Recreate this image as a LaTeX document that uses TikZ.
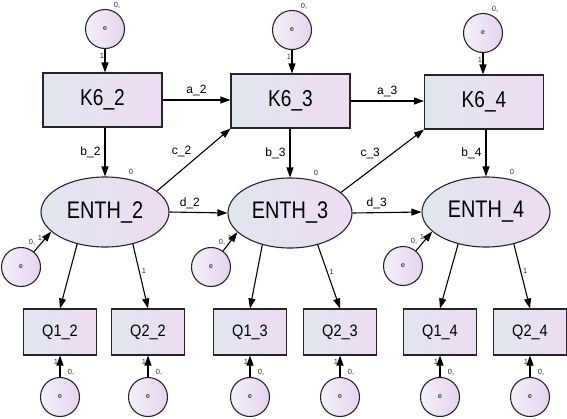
\documentclass[tikz,border=0pt]{standalone}
\usepackage{fontspec}
\setmainfont{Liberation Sans}
\newfontfamily\narrowf[FakeStretch=0.88]{Liberation Sans}
\newfontfamily\narrowg[FakeStretch=0.83]{Liberation Sans}
\usetikzlibrary{arrows.meta,shapes.geometric}
\tikzset{
  base/.style={draw=black!85, line width=1.1pt, inner sep=0pt},
  kbox/.style={base, rectangle, minimum width=119pt, minimum height=54pt,
    left color=boxL, right color=boxR, font=\narrowg\fontsize{23}{23}\selectfont},
  qbox/.style={base, rectangle, minimum width=73pt, minimum height=46pt,
    left color=boxL, right color=boxR, font=\narrowf\fontsize{16.5}{16.5}\selectfont},
  lat/.style={base, ellipse, minimum width=128pt, minimum height=70pt,
    left color=boxL, right color=boxR, font=\narrowg\fontsize{24}{24}\selectfont},
  err/.style={base, circle, minimum size=39pt,
    left color=cirL, right color=cirR, font=\fontsize{7}{7}\selectfont},
  arr/.style={line width=1.1pt, -{Triangle[length=10pt,width=7pt]}},
  plab/.style={font=\fontsize{12}{12}\selectfont, inner sep=1pt},
  small/.style={font=\fontsize{7.5}{7.5}\selectfont, inner sep=0pt, text=black!80}
}
\definecolor{boxL}{HTML}{E0E6EE}
\definecolor{boxR}{HTML}{EEDCF2}
\definecolor{cirL}{HTML}{F3F1FA}
\definecolor{cirR}{HTML}{E6D3EE}
\begin{document}
\begin{tikzpicture}[x=1pt,y=-1pt]
\useasboundingbox (0,0) rectangle (567,418);
\fill[white] (0,0) rectangle (567,418);
% observed K6
\node[kbox] (K2) at (102.5,100) {K6\_2};
\node[kbox] (K3) at (290.5,101) {K6\_3};
\node[kbox] (K4) at (484,102) {K6\_4};
% latent
\node[lat] (E2) at (105,212) {ENTH\_2};
\node[lat, minimum width=124pt] (E3) at (290,213) {ENTH\_3};
\node[lat] (E4) at (486,212) {ENTH\_4};
% indicators
\node[qbox] (Q12) at (60,332) {Q1\_2};
\node[qbox] (Q22) at (148,332) {Q2\_2};
\node[qbox] (Q13) at (250,332) {Q1\_3};
\node[qbox] (Q23) at (340,332) {Q2\_3};
\node[qbox] (Q14) at (440,332) {Q1\_4};
\node[qbox] (Q24) at (530,332) {Q2\_4};
% error terms top
\node[err] (eK2) at (105,29) {e};
\node[err] (eK3) at (292,30) {e};
\node[err] (eK4) at (483,33) {e};
% error terms latent
\node[err] (eE2) at (21,267) {e};
\node[err] (eE3) at (211,267) {e};
\node[err] (eE4) at (403,266) {e};
% error terms bottom
\foreach \q in {12,22,13,23,14,24}{
  \node[err] (eQ\q) at (Q\q |- 0,397) {e};
  \draw[arr] (eQ\q.north) -- (eQ\q.north |- Q\q.south);
  \node[small] at ([shift={(-4pt,-6pt)}]Q\q.south) {1};
  \node[small] at ([shift={(11pt,-17pt)}]Q\q.south) {0,};
}
% top errors to K6
\foreach \k in {2,3,4}{
  \draw[arr] (eK\k.south) -- (eK\k.south |- K\k.north);
  \node[small] at ([shift={(-3pt,-7pt)}]eK\k.south) {1};
  \node[small] at ([shift={(12pt,3.5pt)}]eK\k.north) {0,};
}
% latent errors
\foreach \k in {2,3,4}{
  \draw[arr] (eE\k) -- (E\k.200);
  \node[small] at ([shift={(11pt,25pt)}]eE\k.center) {0,};
  \node[small] at ([shift={(19pt,29pt)}]eE\k.center) {1};
  \node[small] at ([shift={(26pt,5pt)}]E\k.north) {0};
}
% K6 -> K6
\draw[arr] (K2.east) -- (K2.east -| K3.west) node[midway, above=3pt, plab] {a\_2};
\draw[arr] (K3.east) -- (K3.east -| K4.west) node[midway, above=3pt, plab] {a\_3};
% K6 -> ENTH
\draw[arr] (E2 |- K2.south) -- (E2.north) node[midway, left=3pt, plab] {b\_2};
\draw[arr] (E3 |- K3.south) -- (E3.north) node[midway, left=3pt, plab] {b\_3};
\draw[arr] (E4 |- K4.south) -- (E4.north) node[midway, left=3pt, plab] {b\_4};
% ENTH -> K6
\draw[arr] (E2.22) -- (K3.south west) node[midway, above left=1pt, plab] {c\_2};
\draw[arr] (E3.22) -- (K4.south west) node[midway, above left=1pt, plab] {c\_3};
% ENTH -> ENTH
\draw[arr] (E2.east) -- (E3.west) node[pos=0.35, above=2pt, plab] {d\_2};
\draw[arr] (E3.east) -- (E4.west) node[pos=0.35, above=2pt, plab] {d\_3};
% ENTH -> Q
\draw[arr] (E2.229) -- (Q12.north);
\draw[arr] (E2.311) -- (Q22.north) node[pos=0.42, right=2pt, small] {1};
\draw[arr] (E3.229) -- (Q13.north);
\draw[arr] (E3.311) -- (Q23.north) node[pos=0.42, right=2pt, small] {1};
\draw[arr] (E4.229) -- (Q14.north);
\draw[arr] (E4.311) -- (Q24.north) node[pos=0.42, right=2pt, small] {1};
\end{tikzpicture}
\end{document}
